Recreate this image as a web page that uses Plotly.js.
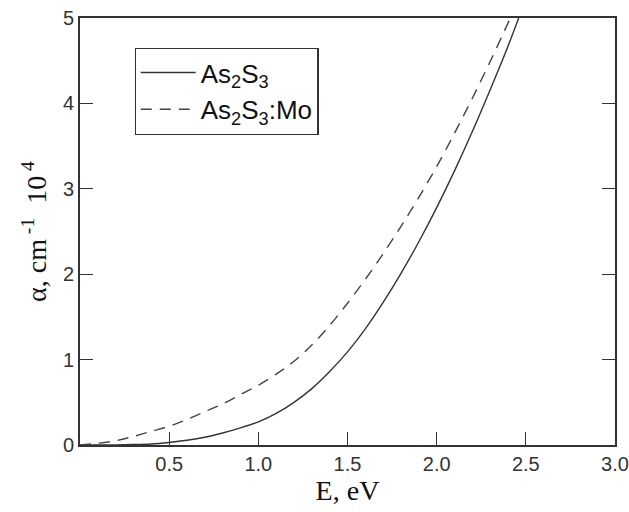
<!DOCTYPE html>
<html>
<head>
<meta charset="utf-8">
<script src="https://cdn.plot.ly/plotly-3.0.1.min.js"></script>
<style>html,body{margin:0;padding:0;background:#fff;}#chart{width:629px;height:512px;}</style>
</head>
<body>
<div id="chart"></div>
<script>
// Photon energy, eV
var energySolid = [0, 0.1, 0.2, 0.3, 0.4, 0.5, 0.6, 0.7, 0.8, 0.9, 1.0, 1.1, 1.2, 1.3, 1.4, 1.5, 1.6, 1.7, 1.8, 1.9, 2.0, 2.1, 2.2, 2.3, 2.4, 2.46];
var alphaAs2S3 = [0, 0, 0.002, 0.005, 0.012, 0.03, 0.055, 0.09, 0.14, 0.2, 0.27, 0.37, 0.50, 0.66, 0.86, 1.09, 1.36, 1.67, 2.01, 2.38, 2.78, 3.21, 3.67, 4.16, 4.67, 5.0];
var energyDashed = [0, 0.1, 0.2, 0.3, 0.4, 0.5, 0.6, 0.7, 0.8, 0.9, 1.0, 1.1, 1.2, 1.3, 1.4, 1.5, 1.6, 1.7, 1.8, 1.9, 2.0, 2.1, 2.2, 2.3, 2.4, 2.42];
var alphaAs2S3Mo = [0, 0.02, 0.05, 0.1, 0.16, 0.22, 0.3, 0.39, 0.48, 0.59, 0.70, 0.83, 0.98, 1.17, 1.40, 1.66, 1.94, 2.24, 2.56, 2.90, 3.26, 3.65, 4.06, 4.49, 4.94, 5.03];
var seriesNames = ["As<sub>2</sub>S<sub>3</sub>", "As<sub>2</sub>S<sub>3</sub>:Mo"];
var xTickVals = [0.5, 1.0, 1.5, 2.0, 2.5, 3.0];
var xTickText = ["0.5", "1.0", "1.5", "2.0", "2.5", "3.0"];
var yTickVals = [0, 1, 2, 3, 4, 5];

var traces = [
  {x: energySolid, y: alphaAs2S3, name: seriesNames[0], mode: "lines",
   line: {color: "#333333", width: 1.4, dash: "solid", shape: "spline", smoothing: 0.8}},
  {x: energyDashed, y: alphaAs2S3Mo, name: seriesNames[1], mode: "lines",
   line: {color: "#444444", width: 1.4, dash: "11px,8px", shape: "spline", smoothing: 0.8}}
];

var layout = {
  width: 629, height: 512,
  margin: {l: 80, r: 14, t: 18, b: 67},
  paper_bgcolor: "#ffffff", plot_bgcolor: "#ffffff",
  showlegend: true,
  legend: {x: 0.102, y: 0.93, xanchor: "left", yanchor: "top",
           bgcolor: "#ffffff", bordercolor: "#333333", borderwidth: 1.2,
           font: {family: "Liberation Sans, Arial, sans-serif", size: 26, color: "#111"},
           tracegroupgap: 0, itemwidth: 55},
  xaxis: {range: [0, 3], tickvals: xTickVals, ticktext: xTickText,
          ticks: "inside", ticklen: 13, tickwidth: 1.3, tickcolor: "#333",
          showline: true, linecolor: "#333", linewidth: 2, mirror: true,
          showgrid: false, zeroline: false,
          tickfont: {family: "Liberation Sans, Arial, sans-serif", size: 20, color: "#333"},
          title: {text: "E, eV", font: {family: "Liberation Serif, Times New Roman, serif", size: 28, color: "#111"}, standoff: 4}},
  yaxis: {range: [0, 5], tickvals: yTickVals,
          ticks: "inside", ticklen: 13, tickwidth: 1.3, tickcolor: "#333",
          showline: true, linecolor: "#333", linewidth: 2, mirror: "ticks",
          showgrid: false, zeroline: false,
          tickfont: {family: "Liberation Sans, Arial, sans-serif", size: 20, color: "#333"},
          title: {text: "α, cm<sup> -1</sup>  10<sup> 4</sup>", font: {family: "Liberation Serif, Times New Roman, serif", size: 28, color: "#111"}, standoff: 8}}
};

Plotly.newPlot("chart", traces, layout, {displayModeBar: false, staticPlot: true});
</script>
</body>
</html>
